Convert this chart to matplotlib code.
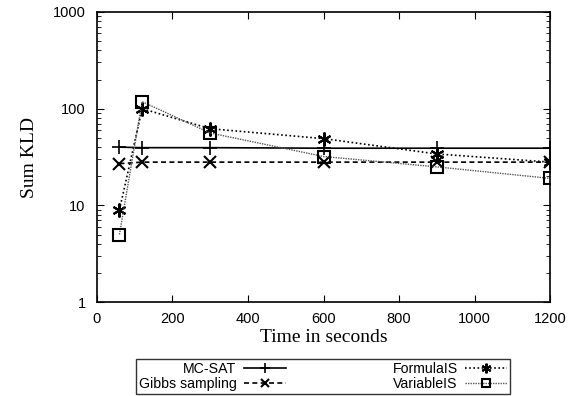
import matplotlib
matplotlib.use("Agg")
import matplotlib.pyplot as plt
from matplotlib.ticker import LogLocator, FixedLocator

times = [60, 120, 300, 600, 900, 1200]
mcsat = [40, 39.5, 39.5, 39, 39, 39]
gibbs = [27, 28, 28, 28, 28, 28]
formulais = [9, 100, 62, 49, 34, 28]
variableis = [5, 118, 56, 32, 25, 19]

fig = plt.figure(figsize=(5.83, 3.96), dpi=100)
ax = fig.add_axes([0.166, 0.237, 0.778, 0.733])

ax.plot(times, mcsat, color='black', lw=1.2, linestyle='-', marker='+', ms=10, mew=1.2, label='MC-SAT')
ax.plot(times, gibbs, color='black', lw=1.2, linestyle=(0, (3, 2)), marker='x', ms=8, mew=1.5, label='Gibbs sampling')
ax.plot(times, formulais, color='black', lw=1.2, linestyle=(0, (1, 1.5)), marker=(6, 2, 0), ms=10, mew=1.5, label='FormulaIS')
ax.plot(times, variableis, color='#555555', lw=1.0, linestyle=(0, (1, 0.8)), marker='s', ms=8, mew=1.5,
        mfc='none', mec='black', label='VariableIS')

ax.set_yscale('log')
ax.set_xlim(0, 1200)
ax.set_ylim(1, 1000)
ax.xaxis.set_major_locator(FixedLocator(range(0, 1201, 200)))
ax.yaxis.set_minor_locator(LogLocator(base=10, subs=range(2, 10), numticks=10))
ax.set_yticks([1, 10, 100, 1000])
ax.set_yticklabels(['1', '10', '100', '1000'])
ax.tick_params(which='both', direction='in', top=True, right=True, labelsize=10.5)
ax.tick_params(which='major', length=5, width=0.8)
ax.tick_params(which='minor', length=3, width=0.6)
ax.tick_params(axis='x', which='major', pad=7)
ax.tick_params(axis='y', which='major', pad=8)
ax.tick_params(axis='x', which='minor', top=False, bottom=False)
for lab in ax.get_xticklabels() + ax.get_yticklabels():
    lab.set_fontfamily('Liberation Sans')
for s in ax.spines.values():
    s.set_linewidth(1.2)

ax.set_xlabel('Time in seconds', fontfamily='Liberation Serif', fontsize=14, labelpad=2)
ax.set_ylabel('Sum KLD', fontfamily='Liberation Serif', fontsize=14, labelpad=11)

leg = fig.legend(loc='lower center', bbox_to_anchor=(0.554, 0.0), ncol=2, markerfirst=False,
                 prop={'family': 'Liberation Sans', 'size': 10.2}, frameon=True, fancybox=False,
                 edgecolor='black', handlelength=3.0, columnspacing=7.5, labelspacing=0.1,
                 borderpad=0.2, handletextpad=0.5, borderaxespad=0.15, markerscale=0.7)
leg.get_frame().set_linewidth(1.0)

fig.savefig('out.png', dpi=100)
